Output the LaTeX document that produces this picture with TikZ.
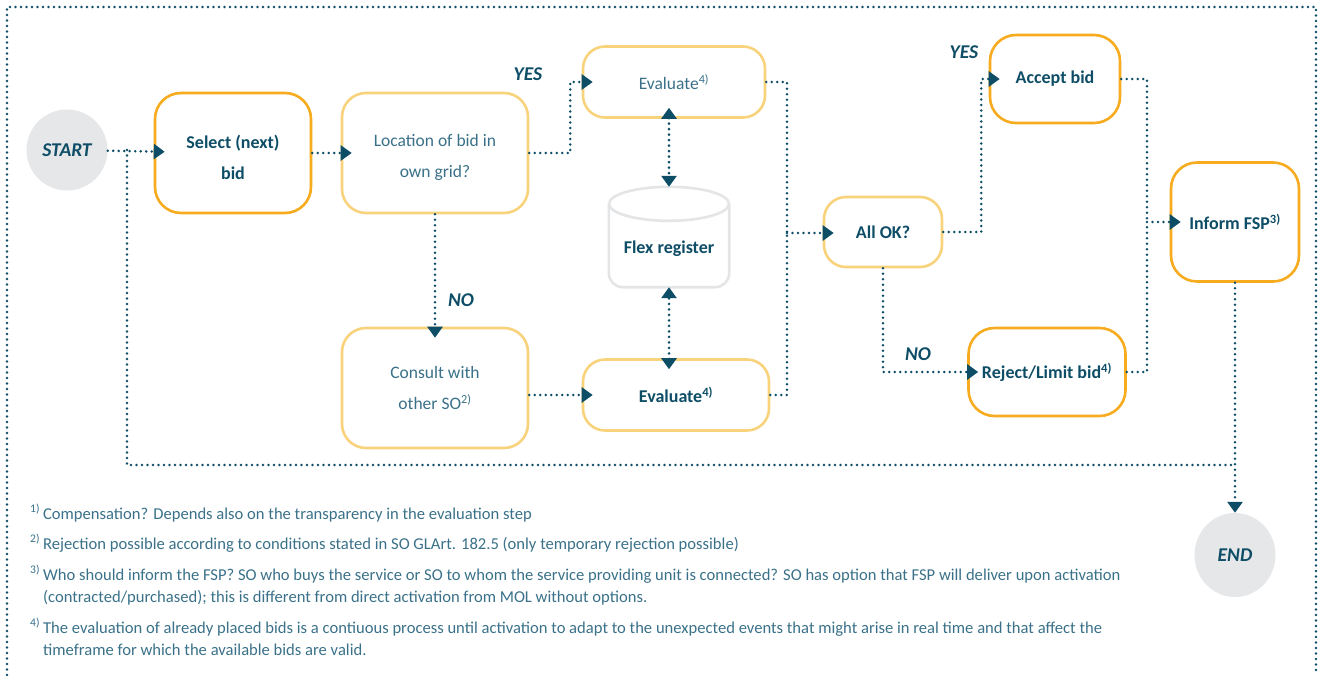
\documentclass[tikz,border=0pt]{standalone}
\usepackage{fontspec}
\setmainfont{Carlito}
\usetikzlibrary{arrows.meta,shapes.geometric}
\definecolor{flowteal}{HTML}{0E4D66}
\definecolor{softteal}{HTML}{3A7189}
\definecolor{boxorange}{HTML}{F7AB1F}
\definecolor{boxpale}{HTML}{F8D37C}
\definecolor{termgray}{HTML}{E6E7E9}
\definecolor{dbgray}{HTML}{E4E5E7}
\newcommand\notemark[1]{\textsuperscript{#1)}}
\tikzset{
  link/.style={flowteal, line width=2.8pt, dash pattern=on 0pt off 5.5pt, line cap=round},
  flow/.style={link, -{Triangle[length=11pt,width=15pt]}, shorten >=-11pt},
  tipflow/.style={link, -{Triangle[length=11pt,width=15pt]}},
  dual/.style={link, {Triangle[length=11pt,width=15pt]}-{Triangle[length=11pt,width=15pt]}, shorten <=-11pt},
  boldtxt/.style={text=flowteal, font=\fontsize{18}{31}\selectfont\bfseries},
  lighttxt/.style={text=softteal, font=\fontsize{17.5}{31}\selectfont},
  stepbox/.style={draw=boxorange, line width=2.6pt, rounded corners=26pt, fill=white, align=center, boldtxt},
  palebox/.style={draw=boxpale, line width=2.6pt, rounded corners=24pt, fill=white, align=center},
  terminal/.style={circle, fill=termgray, inner sep=0pt, text=flowteal, font=\fontsize{19.5}{20}\selectfont\bfseries\itshape},
  choice/.style={text=flowteal, font=\fontsize{19.5}{20}\selectfont\bfseries\itshape},
  note/.style={text=softteal, font=\fontsize{16.6}{22}\selectfont, anchor=base west, inner sep=0pt}
}
\begin{document}
\begin{tikzpicture}[x=1pt, y=-1pt]
\useasboundingbox (0,0) rectangle (1322,675);
% frame
\draw[link] (7,675) -- (7,7) -- (1316,7) -- (1316,675);

% start and end
\node[terminal, minimum size=81pt] (start) at (67,150) {START};
\node[terminal, shape=ellipse, minimum width=81pt, minimum height=84pt] (end) at (1235,555) {END};

% steps
\node[stepbox, minimum width=156pt, minimum height=120pt] (select) at (233,153) {\strut Select (next)\\bid};
\node[palebox, lighttxt, minimum width=186pt, minimum height=120pt] (location) at (435,153) {\strut Location of bid in\\own grid?};
\node[palebox, lighttxt, rounded corners=22pt, minimum width=182pt, minimum height=71pt] (evaltop) at (674,82) {Evaluate\notemark{4}};
\node[palebox, lighttxt, minimum width=186pt, minimum height=120pt] (consult) at (435,388) {Consult with\\other SO\notemark{2}};
\node[palebox, boldtxt, rounded corners=22pt, minimum width=186pt, minimum height=71pt] (evalbot) at (676,395) {Evaluate\notemark{4}};
\node[palebox, boldtxt, rounded corners=22pt, minimum width=118pt, minimum height=70pt] (allok) at (883,232) {All OK?};
\node[stepbox, minimum width=130pt, minimum height=88pt] (accept) at (1055,79) {Accept bid};
\node[stepbox, minimum width=128pt, minimum height=119pt] (inform) at (1235,222) {Inform FSP\notemark{3}};
\node[stepbox, minimum width=157pt, minimum height=88pt] (reject) at (1047,372) {Reject/Limit bid\notemark{4}};

% flex register
\node[minimum width=120pt, minimum height=100pt, inner sep=0pt] (flex) at (669,237) {};
\draw[dbgray, line width=2.6pt, rounded corners=14pt, fill=white] ([yshift=-17pt]flex.north west) -- (flex.south west) -- (flex.south east) -- ([yshift=-17pt]flex.north east);
\draw[dbgray, line width=2.6pt, fill=white] ([yshift=-17pt]flex.north) ellipse (60pt and 17pt);
\node[boldtxt] (flexlbl) at ([yshift=-12pt]flex.center) {Flex register};

% decisions
\node[choice] (yes1) at (528,74) {YES};
\node[choice] (no1) at (461,300) {NO};
\node[choice] (yes2) at (964,52) {YES};
\node[choice] (no2) at (918,354) {NO};

% connectors
\coordinate (split) at (127,150);
\coordinate (bus) at (1235,465);
\coordinate (gather) at (787,233);
\coordinate (merge) at (1147,222);
\draw[flow] (start) -- (select);
\draw[link] (split) |- (bus);
\draw[flow] (select) -- (location);
\draw[flow] (location.east) -- ++(41,0) |- (evaltop.west);
\draw[flow] (location.south) -- (location.south |- consult.north);
\draw[flow] (consult.east |- evalbot.west) -- (evalbot.west);
\draw[dual] (flex.north |- evaltop.south) -- (flex.north);
\draw[dual] (flex.south |- evalbot.north) -- (flex.south);
\draw[link] (evaltop.east) -| (gather);
\draw[link] (evalbot.east) -| (gather);
\draw[flow] (gather) -- (gather -| allok.west);
\draw[flow] (allok.east) -- ++(38,0) |- (accept.west);
\draw[flow] (allok.south) |- (reject.west);
\draw[link] (accept.east) -| (merge);
\draw[link] (reject.east) -| (merge);
\draw[flow] (merge) -- (inform.west);
\draw[tipflow] (inform.south) -- (end.north);

% footnotes
\node[note] (fn1) at (30,519) {\notemark{1}\hspace{3pt}Compensation? Depends also on the transparency in the evaluation step};
\node[note] (fn2) at (30,549) {\notemark{2}\hspace{3pt}Rejection possible according to conditions stated in SO GLArt. 182.5 (only temporary rejection possible)};
\node[note] (fn3a) at (30,580) {\notemark{3}\hspace{3pt}Who should inform the FSP? SO who buys the service or SO to whom the service providing unit is connected? SO has option that FSP will deliver upon activation};
\node[note] (fn3b) at (43,602) {(contracted/purchased); this is different from direct activation from MOL without options.};
\node[note] (fn4a) at (30,633) {\notemark{4}\hspace{3pt}The evaluation of already placed bids is a contiuous process until activation to adapt to the unexpected events that might arise in real time and that affect the};
\node[note] (fn4b) at (43,655) {timeframe for which the available bids are valid.};
\end{tikzpicture}
\end{document}
